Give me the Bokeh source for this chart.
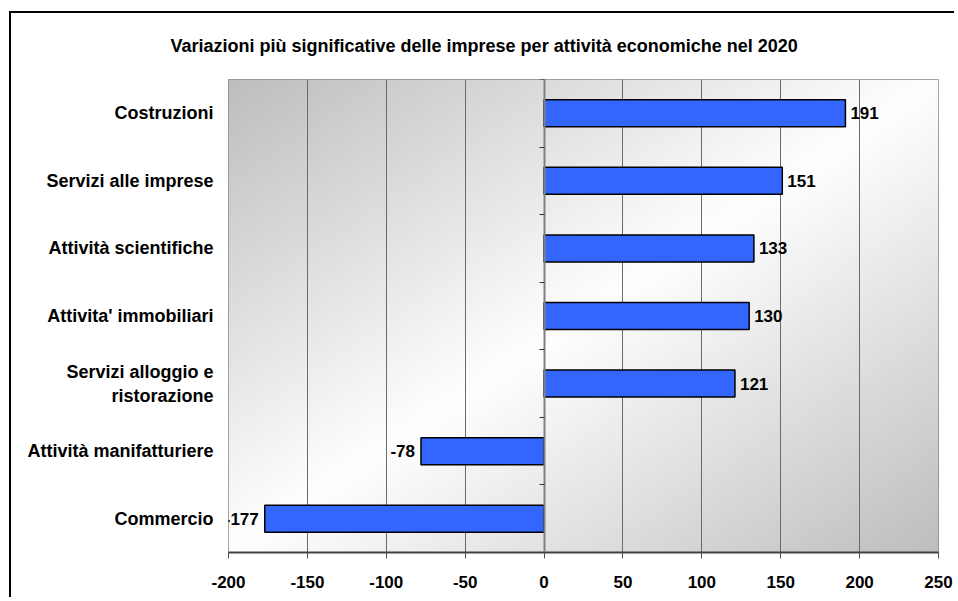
import numpy as np
from bokeh.plotting import figure
from bokeh.models import ColumnDataSource, FixedTicker, LinearAxis, LabelSet
from bokeh.core.properties import value
from bokeh.embed import file_html
from bokeh.resources import INLINE

title_text = "Variazioni più significative delle imprese per attività economiche nel 2020"
categories = ["Costruzioni", "Servizi alle imprese", "Attività scientifiche",
              "Attivita' immobiliari", "Servizi alloggio e\nristorazione",
              "Attività manifatturiere", "Commercio"]
values = [191, 151, 133, 130, 121, -78, -177]
x_ticks = [-200, -150, -100, -50, 0, 50, 100, 150, 200, 250]
x_tick_labels = ["-200", "-150", "-100", "-50", "0", "50", "100", "150", "200", "250"]

FONT = "Liberation Sans"
n = len(categories)
ypos = [n - 1 - i for i in range(n)]

W, H = 945, 586
p = figure(width=W, height=H, output_backend="svg", toolbar_location=None,
           x_range=(x_ticks[0], x_ticks[-1]), y_range=(-0.5, n - 0.5),
           min_border_left=217, min_border_right=18, min_border_top=66, min_border_bottom=47,
           title=title_text)
p.styles = {"border-top": "2px solid black", "border-left": "2px solid black",
            "margin-left": "9px", "margin-top": "11px"}

p.title.text_font = FONT
p.title.text_font_style = "bold"
p.title.text_font_size = "18px"
p.title.text_color = "black"
p.title.align = "left"
p.title.offset = -58
p.title.vertical_align = "top"
p.title.standoff = 43

p.outline_line_color = "#888888"
p.outline_line_width = 1
p.background_fill_color = "white"
p.border_fill_color = "white"

# gradient background
gh, gw = 120, 200
u = np.linspace(0, 1, gw)[None, :]
v = 1 - np.linspace(0, 1, gh)[:, None]
t = (u + v) / 2
g = (190 + 65 * (1 - np.abs(2 * t - 1))).astype(np.uint32)
img = (255 << 24) | (g << 16) | (g << 8) | g
img_r = p.image_rgba(image=[img.astype(np.uint32)], x=x_ticks[0], y=-0.5,
                     dw=x_ticks[-1] - x_ticks[0], dh=n)
img_r.level = "image"

# grid
p.xgrid.ticker = FixedTicker(ticks=x_ticks)
p.xgrid.grid_line_color = "#6a6a6a"
p.xgrid.grid_line_width = 1
p.ygrid.grid_line_color = None

# bars
src = ColumnDataSource(dict(y=ypos, v=values))
p.hbar(y="y", left=0, right="v", height=0.4, source=src,
       fill_color="#3366FF", line_color="black", line_width=1.5)

# x axis
xa = p.xaxis[0]
xa.ticker = FixedTicker(ticks=x_ticks)
xa.major_label_overrides = {t_: l for t_, l in zip(x_ticks, x_tick_labels)}
xa.major_label_text_font = FONT
xa.major_label_text_font_style = "bold"
xa.major_label_text_font_size = "17px"
xa.major_label_text_color = "black"
xa.axis_line_color = "#404040"
xa.axis_line_width = 2
xa.major_tick_line_color = "#505050"
xa.major_tick_in = 0
xa.major_tick_out = 6
xa.minor_tick_line_color = None
xa.major_label_standoff = 17

# category axis
ya = p.yaxis[0]
ya.ticker = FixedTicker(ticks=ypos)
ya.major_label_overrides = {y_: c for y_, c in zip(ypos, categories)}
ya.major_label_text_font = FONT
ya.major_label_text_font_style = "bold"
ya.major_label_text_font_size = "18px"
ya.major_label_text_color = "black"
ya.axis_line_color = None
ya.major_tick_line_color = None
ya.minor_tick_line_color = None
ya.major_label_standoff = 9

# zero axis with category boundary ticks
bounds = [y_ - 0.5 for y_ in range(n + 1)]
za = LinearAxis(fixed_location=0, ticker=FixedTicker(ticks=bounds))
za.axis_line_color = "#808080"
za.axis_line_width = 2
za.major_tick_line_color = "#333333"
za.major_tick_in = 0
za.major_tick_out = 5
za.minor_tick_line_color = None
za.major_label_text_color = None
za.major_label_text_font_size = "1px"
za.major_label_standoff = 0
p.add_layout(za, "left")

# value labels
pos_src = ColumnDataSource(dict(y=[y_ for y_, v_ in zip(ypos, values) if v_ >= 0],
                                v=[v_ for v_ in values if v_ >= 0],
                                lbl=[str(v_) for v_ in values if v_ >= 0]))
neg_src = ColumnDataSource(dict(y=[y_ for y_, v_ in zip(ypos, values) if v_ < 0],
                                v=[v_ for v_ in values if v_ < 0],
                                lbl=[str(v_) for v_ in values if v_ < 0]))
for s, align, off in ((pos_src, "left", 5), (neg_src, "right", -6)):
    ls = LabelSet(x="v", y="y", text="lbl", source=s, x_offset=off,
                  text_align=align, text_baseline="middle",
                  text_font=value(FONT), text_font_style="bold",
                  text_font_size="17px", text_color="black")
    p.add_layout(ls)

open("out.html", "w").write(file_html(p, INLINE))
